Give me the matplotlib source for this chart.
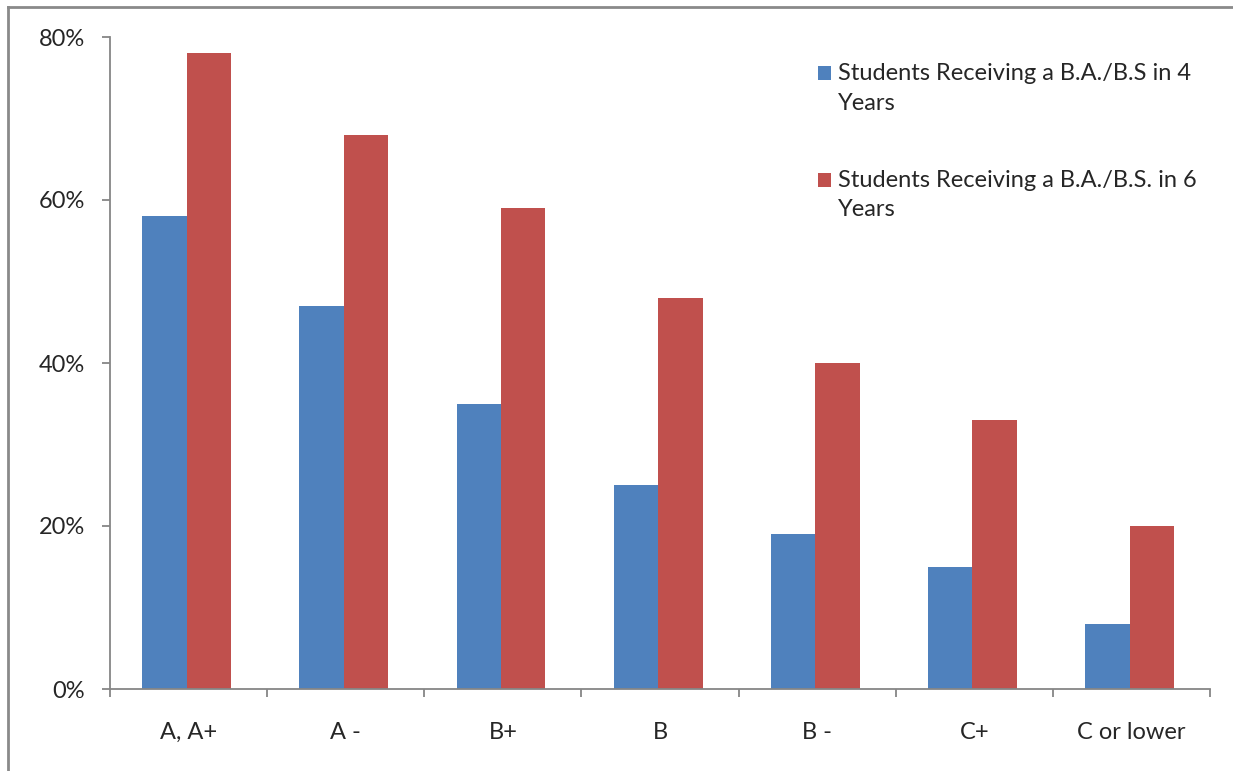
import matplotlib
matplotlib.use("Agg")
import matplotlib.pyplot as plt
from matplotlib.patches import Rectangle
from matplotlib.lines import Line2D
from matplotlib.ticker import FixedLocator, FuncFormatter
import numpy as np

categories = ["A, A+", "A -", "B+", "B", "B -", "C+", "C or lower"]
four_year = [58, 47, 35, 25, 19, 15, 8]
six_year = [78, 68, 59, 48, 40, 33, 20]
series_names = ["Students Receiving a B.A./B.S in 4\nYears",
                "Students Receiving a B.A./B.S. in 6\nYears"]
y_ticks = [0, 20, 40, 60, 80]

BLUE = "#4F81BD"
RED = "#C0504D"
AXIS = "#868686"
TEXT = "#262626"
FS = 17

plt.rcParams['font.family'] = ['Lato', 'DejaVu Sans']

fig = plt.figure(figsize=(12.33, 7.71), dpi=100)
W, H = 1233, 771
ax = fig.add_axes([110 / W, 1 - 689 / H, 1100 / W, (689 - 37) / H])

x = np.arange(len(categories))
bw = 0.283
b1 = ax.bar(x - bw / 2 - 0.012, four_year, width=bw, color=BLUE, zorder=2)
b2 = ax.bar(x + bw / 2 - 0.012, six_year, width=bw, color=RED, zorder=2)

ax.set_xlim(-0.5, len(categories) - 0.5)
ax.set_ylim(0, 80)

for s in ["top", "right"]:
    ax.spines[s].set_visible(False)
for s in ["left", "bottom"]:
    ax.spines[s].set_color(AXIS)
    ax.spines[s].set_linewidth(1.3)

ax.yaxis.set_major_locator(FixedLocator(y_ticks))
ax.yaxis.set_major_formatter(FuncFormatter(lambda v, p: f"{v:.0f}%"))
ax.tick_params(axis="y", length=6, width=1.3, color=AXIS, pad=12,
               labelsize=FS, labelcolor=TEXT)

ax.set_xticks(np.arange(len(categories) + 1) - 0.5)
ax.set_xticklabels([])
ax.set_xticks(x, minor=True)
ax.set_xticklabels(categories, minor=True)
ax.tick_params(axis="x", which="major", length=6, width=1.3, color=AXIS)
ax.tick_params(axis="x", which="minor", length=0, pad=24,
               labelsize=FS, labelcolor=TEXT)

# Legend drawn manually so the marker aligns with the first text line
leg_items = [(b1.patches[0].get_facecolor(), series_names[0], 73),
             (b2.patches[0].get_facecolor(), series_names[1], 180)]
for color, label, ypix in leg_items:
    fig.patches.append(Rectangle((818 / W, 1 - (ypix + 6.5) / H), 13 / W, 13 / H,
                                 transform=fig.transFigure, facecolor=color,
                                 edgecolor="none"))
    fig.text(838 / W, 1 - (ypix - 10) / H, label, fontsize=FS, color=TEXT,
             va="top", ha="left", linespacing=1.5)

# Outer chart border (left and top visible)
fig.add_artist(Line2D([8 / W, 8 / W], [0, 1 - 7 / H], transform=fig.transFigure,
                      color="#8a8a8a", linewidth=2))
fig.add_artist(Line2D([8 / W, 1], [1 - 7 / H, 1 - 7 / H], transform=fig.transFigure,
                      color="#8a8a8a", linewidth=2))

fig.savefig("out.png", dpi=100)
